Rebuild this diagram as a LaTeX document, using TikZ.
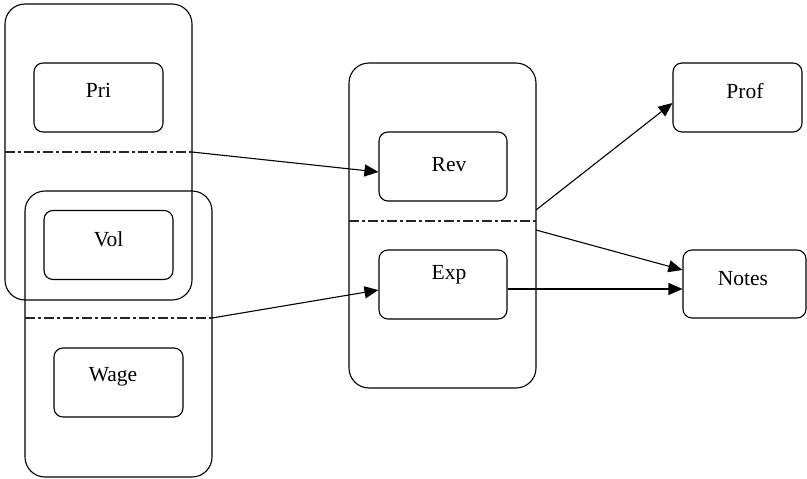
\documentclass[tikz,border=0pt]{standalone}
\usepackage{fontspec}
\setmainfont{Liberation Serif}
\usetikzlibrary{arrows.meta}
\begin{document}
\begin{tikzpicture}[x=1pt,y=-1pt,
  big/.style={draw, rounded corners=20pt, line width=1.1pt, inner sep=0pt, minimum width=187pt},
  box/.style={draw, rounded corners=9pt, line width=1.1pt, inner sep=0pt, minimum width=129pt, minimum height=69pt},
  lbl/.style={font=\fontsize{21.5}{24}\selectfont, inner sep=0pt},
  sep/.style={draw=black!85, line width=1.1pt, dash pattern=on 10pt off 3pt on 3pt off 3pt},
  conn/.style={line width=1.1pt, -{Triangle[length=14pt,width=12pt]}}]
\useasboundingbox (0,0) rectangle (807,479);

% containers
\node[big, minimum height=296pt] (big1) at (98.5,152) {};
\node[big, minimum height=286pt] (big2) at (118.5,334) {};
\node[big, minimum height=325pt] (big3) at (442.5,225.5) {};

% boxes
\node[box, label={[lbl, yshift=7.5pt]center:Pri}] (pri) at (98.5,97.5) {};
\node[box, label={[lbl, yshift=6pt]center:Vol}] (vol) at (108.5,245) {};
\node[box, label={[lbl, xshift=-5.5pt, yshift=5.5pt]center:Wage}] (wage) at (118.5,382.5) {};
\node[box, minimum width=128pt, label={[lbl, xshift=6pt, yshift=1.5pt]center:Rev}] (rev) at (443,166.5) {};
\node[box, minimum width=128pt, label={[lbl, xshift=6pt, yshift=9.5pt]center:Exp}] (exp) at (443,284.5) {};
\node[box, label={[lbl, xshift=7.5pt, yshift=6pt]center:Prof}] (prof) at (737.5,97.5) {};
\node[box, minimum width=123pt, minimum height=68pt, label={[lbl, xshift=-1.5pt, yshift=5.5pt]center:Notes}] (notes) at (744.5,284) {};

% separators
\coordinate (s1a) at (5,152);   \coordinate (s1b) at (192,152);
\coordinate (s2a) at (25,318);  \coordinate (s2b) at (212,318);
\coordinate (s3a) at (349,221); \coordinate (s3b) at (536,221);
\draw[sep] (s1a) -- (s1b);
\draw[sep] (s2a) -- (s2b);
\draw[sep] (s3a) -- (s3b);

% connectors
\coordinate (o1) at (536,210);
\coordinate (o2) at (536,230);
\draw[conn] (s1b) -- ([yshift=-5.5pt]rev.west);
\draw[conn] (s2b) -- ([yshift=-5.5pt]exp.west);
\draw[conn] (o1) -- ([yshift=-5.5pt]prof.west);
\draw[conn] (o2) -- ([yshift=14pt]notes.west);
\draw[conn] ([yshift=-4.5pt]exp.east) -- ([yshift=-4.5pt]exp.east -| notes.west);
\end{tikzpicture}
\end{document}
